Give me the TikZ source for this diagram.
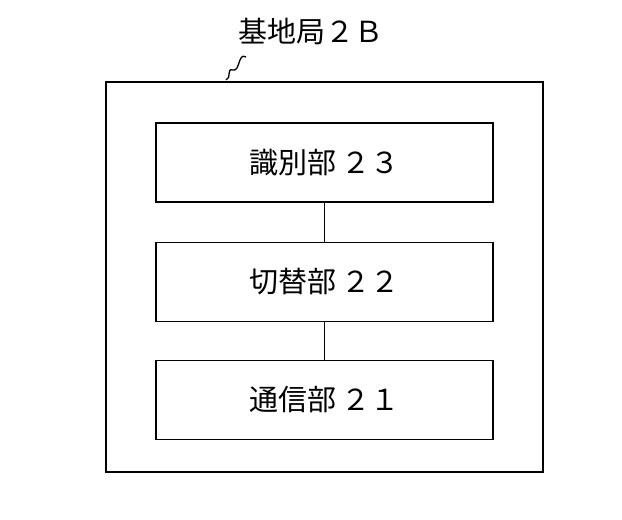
\documentclass[tikz,border=0pt]{standalone}
\usepackage{fontspec}
\setmainfont{Noto Sans CJK JP}
\begin{document}
\begin{tikzpicture}[x=1pt,y=-1pt,line width=1.6pt,
  blk/.style={draw,minimum width=337pt,minimum height=79pt,font=\fontsize{29}{33}\selectfont}]
\useasboundingbox (0,0) rectangle (622,520);
\node[draw,minimum width=437pt,minimum height=390pt] (outer) at (324.5,277) {};
\node[blk] (b23) at (324.5,162.5) {識別部\,２３};
\node[blk] (b22) at (324.5,282) {切替部\,２２};
\node[blk] (b21) at (324.5,400) {通信部\,２１};
\draw (b23.south) -- (b22.north);
\draw (b22.south) -- (b21.north);
\node[font=\fontsize{29}{33}\selectfont] (lbl) at (311,31) {基地局２Ｂ};
\coordinate (s1) at (246,57);
\coordinate (s2) at (226,80);
\draw[line width=1.3pt] (s1) .. controls (238,52) and (240,72) .. (233,70) .. controls (226,68) and (232,78) .. (s2);
\end{tikzpicture}
\end{document}
